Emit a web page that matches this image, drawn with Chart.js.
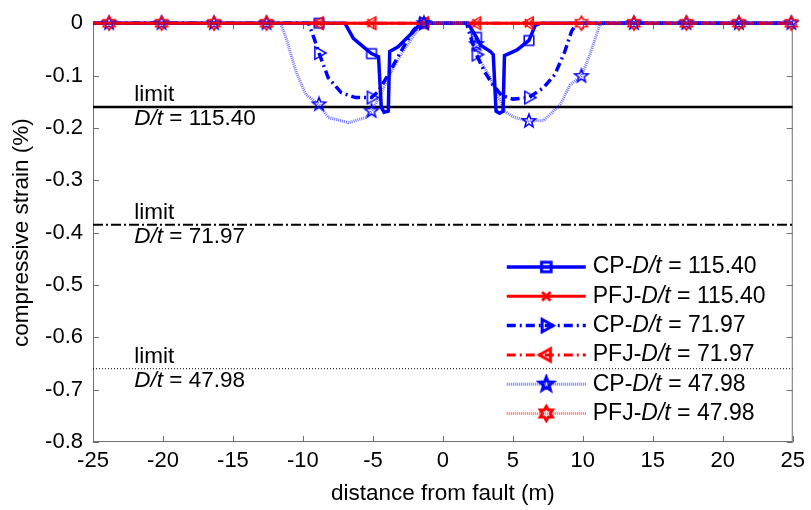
<!DOCTYPE html>
<html>
<head>
<meta charset="utf-8">
<script src="https://cdn.jsdelivr.net/npm/chart.js@4.4.1/dist/chart.umd.min.js"></script>
<style>
  html,body{margin:0;padding:0;background:#fff;}
  #wrap{width:811px;height:510px;}
</style>
</head>
<body>
<div id="wrap"><canvas id="chart" width="811" height="510"></canvas></div>
<script>
const FONT = "'Liberation Sans', Arial, sans-serif";
const BLUE = '#0000ff', RED = '#ff0000';

// marker stations along the pipe (m)
const markAll = [-23.85, -20.1, -16.35, -12.6, -8.85, -5.1, -1.35, 2.4, 6.15, 9.9, 13.65, 17.4, 21.15, 24.9];
const markMid = [-8.85, -5.1, -1.35, 2.4, 6.15];
const markOuter = markAll.filter(x => !markMid.includes(x));

// continuous pipe, D/t = 115.40
const cp115X = [-25, -8.85, -7.0, -6.4, -5.55, -5.1, -4.6, -4.4, -4.2, -3.9, -3.8, -3.2, -2.0, -1.6, -1.35, 1.8, 2.4, 2.7, 3.4, 3.6, 3.8, 4.05, 4.3, 4.4, 5.3, 6.15, 6.6, 7.0, 25];
const cp115Y = [0, 0, 0, -0.029, -0.048, -0.058, -0.064, -0.161, -0.170, -0.168, -0.054, -0.045, -0.013, 0, 0, 0, -0.027, -0.042, -0.054, -0.060, -0.168, -0.172, -0.168, -0.062, -0.051, -0.033, -0.004, 0, 0];

// continuous pipe, D/t = 71.97
const cp72X = [-25, -9.6, -9.2, -8.85, -8.2, -7.25, -6.25, -5.1, -4.6, -3.9, -3.0, -2.1, -1.6, -1.35, 1.7, 2.0, 2.4, 2.96, 3.55, 4.2, 5.0, 6.15, 7.2, 8.0, 8.7, 9.2, 9.6, 25];
const cp72Y = [0, 0, -0.029, -0.057, -0.104, -0.133, -0.142, -0.142, -0.130, -0.098, -0.054, -0.013, 0, 0, 0, -0.028, -0.060, -0.092, -0.117, -0.138, -0.145, -0.142, -0.123, -0.098, -0.055, -0.015, 0, 0];

// continuous pipe, D/t = 47.98
const cp48X = [-25, -23.85, -20.1, -16.35, -12.6, -11.6, -11.2, -10.5, -9.8, -8.85, -8.2, -6.75, -5.5, -5.1, -4.5, -3.9, -3.0, -1.9, -1.35, 1.8, 2.4, 2.7, 3.3, 3.9, 4.4, 5.1, 6.15, 7.2, 8.4, 9.1, 9.9, 10.5, 11.2, 11.6, 13.65, 17.4, 21.15, 24.9, 25];
const cp48Y = [0, 0, 0, 0, 0, 0, -0.029, -0.092, -0.136, -0.155, -0.180, -0.190, -0.180, -0.168, -0.140, -0.104, -0.060, -0.017, 0, 0, -0.040, -0.073, -0.100, -0.136, -0.168, -0.180, -0.187, -0.186, -0.155, -0.117, -0.101, -0.060, -0.004, 0, 0, 0, 0, 0, 0];

// pipe with flexible joints: no compressive strain anywhere
const pfjX = [-25, -23.85, -20.1, -16.35, -12.6, -8.85, -5.1, -1.35, 2.4, 6.15, 9.9, 13.65, 17.4, 21.15, 24.9, 25];
const pfjY = [0, 0, 0, 0, 0, 0, 0, 0, 0, 0, 0, 0, 0, 0, 0, 0];

// strain limits
const limits = [-0.16, -0.385, -0.66];
const limitDt = ['115.40', '71.97', '47.98'];

function makeMarker(shape, color, r, lw) {
  const s = Math.ceil(2 * r + lw + 4);
  const c = document.createElement('canvas');
  c.width = c.height = s;
  const g = c.getContext('2d');
  g.translate(s / 2, s / 2);
  g.strokeStyle = color;
  g.lineWidth = lw;
  g.beginPath();
  if (shape === 'square') {
    g.rect(-r * 0.8, -r * 0.8, r * 1.6, r * 1.6);
  } else if (shape === 'x') {
    const k = r * 0.7;
    g.moveTo(-k, -k); g.lineTo(k, k);
    g.moveTo(k, -k); g.lineTo(-k, k);
  } else if (shape === 'triR' || shape === 'triL') {
    const d = shape === 'triR' ? 1 : -1;
    g.moveTo(d * r, 0);
    g.lineTo(-d * r * 0.6, -r * 0.9);
    g.lineTo(-d * r * 0.6, r * 0.9);
    g.closePath();
  } else {
    const n = shape === 'penta' ? 5 : 6;
    const inner = shape === 'penta' ? 0.42 : 0.58;
    for (let i = 0; i < 2 * n; i++) {
      const a = -Math.PI / 2 + i * Math.PI / n;
      const rr = i % 2 ? r * inner : r;
      g.lineTo(rr * Math.cos(a), rr * Math.sin(a));
    }
    g.closePath();
  }
  g.stroke();
  return c;
}

const styles = [
  {name: ['CP-', 'D/t', ' = 115.40'], xs: cp115X, ys: cp115Y, color: BLUE, width: 3.5, dash: [], shape: 'square', r: 6, marks: markMid},
  {name: ['PFJ-', 'D/t', ' = 115.40'], xs: pfjX, ys: pfjY, color: RED, width: 3, dash: [], shape: 'x', r: 6, marks: markMid},
  {name: ['CP-', 'D/t', ' = 71.97'], xs: cp72X, ys: cp72Y, color: BLUE, width: 3.5, dash: [9, 4, 2, 4], shape: 'triR', r: 7, marks: markMid},
  {name: ['PFJ-', 'D/t', ' = 71.97'], xs: pfjX, ys: pfjY, color: RED, width: 3, dash: [9, 4, 2, 4], shape: 'triL', r: 7, marks: markMid},
  {name: ['CP-', 'D/t', ' = 47.98'], xs: cp48X, ys: cp48Y, color: 'rgba(0,0,255,0.55)', width: 3, dash: [1, 1], shape: 'penta', r: 7, marks: markAll, mcolor: BLUE},
  {name: ['PFJ-', 'D/t', ' = 47.98'], xs: pfjX, ys: pfjY, color: 'rgba(255,0,0,0.55)', width: 3, dash: [1, 1], shape: 'hexa', r: 7, marks: markOuter, mcolor: RED}
];
styles.forEach(s => {
  s.img = makeMarker(s.shape, s.mcolor || s.color, s.r, 1.5);
  s.legendImg = makeMarker(s.shape, s.mcolor || s.color, s.r, 3);
});

const limitStyles = [
  {width: 2.5, dash: []},
  {width: 2, dash: [10, 3, 2, 3]},
  {width: 1, dash: [1, 2]}
];

const datasets = limits.map((v, i) => ({
  data: [{x: -25, y: v}, {x: 25, y: v}],
  borderColor: '#000', borderWidth: limitStyles[i].width, borderDash: limitStyles[i].dash,
  pointRadius: 0, order: 20
}));
styles.forEach((s, i) => datasets.push({
  data: s.xs.map((x, k) => ({x: x, y: s.ys[k]})),
  borderColor: s.color, borderWidth: s.width, borderDash: s.dash,
  pointStyle: s.img,
  pointRadius: ctx => (ctx.raw && s.marks.includes(ctx.raw.x)) ? 6 : 0,
  pointHoverRadius: 0, clip: false, tension: 0, order: styles.length - i
}));

function richText(ctx, parts, x, y, size) {
  parts.forEach((p, i) => {
    ctx.font = (i === 1 ? 'italic ' : '') + size + 'px ' + FONT;
    ctx.fillText(p, x, y);
    x += ctx.measureText(p).width;
  });
}

const decor = {
  id: 'decor',
  beforeDatasetsDraw(chart) {
    const {ctx, chartArea: a, scales: {x, y}} = chart;
    ctx.save();
    ctx.strokeStyle = '#707070';
    ctx.lineWidth = 1;
    ctx.strokeRect(a.left + 0.5, a.top + 0.5, a.right - a.left - 1, a.bottom - a.top - 1);
    ctx.beginPath();
    x.ticks.forEach(t => {
      const px = Math.round(x.getPixelForValue(t.value)) + 0.5;
      ctx.moveTo(px, a.bottom); ctx.lineTo(px, a.bottom - 6);
      ctx.moveTo(px, a.top); ctx.lineTo(px, a.top + 6);
    });
    y.ticks.forEach(t => {
      const py = Math.round(y.getPixelForValue(t.value)) + 0.5;
      ctx.moveTo(a.left, py); ctx.lineTo(a.left + 6, py);
      ctx.moveTo(a.right, py); ctx.lineTo(a.right - 6, py);
    });
    ctx.stroke();
    ctx.restore();
  },
  afterDatasetsDraw(chart) {
    const {ctx, chartArea: a, scales: {x, y}} = chart;
    ctx.save();
    ctx.fillStyle = '#000';
    ctx.textBaseline = 'middle';
    // limit labels
    limits.forEach((v, i) => {
      const px = x.getPixelForValue(-22.05);
      const py = y.getPixelForValue(v);
      ctx.font = '22.5px ' + FONT;
      ctx.fillText('limit', px, py - 12);
      richText(ctx, ['', 'D/t', ' = ' + limitDt[i]], px, py + 12, 22.5);
    });
    // legend
    const x0 = a.right - 286, x1 = a.right - 207, tx = a.right - 200;
    styles.forEach((s, i) => {
      const ry = a.bottom - 175 + i * 29.3;
      ctx.strokeStyle = s.color;
      ctx.lineWidth = s.width;
      ctx.setLineDash(s.dash);
      ctx.beginPath();
      ctx.moveTo(x0, ry); ctx.lineTo(x1, ry);
      ctx.stroke();
      ctx.setLineDash([]);
      ctx.drawImage(s.legendImg, (x0 + x1) / 2 - s.legendImg.width / 2, ry - s.legendImg.height / 2);
      richText(ctx, s.name, tx, ry, 23);
    });
    ctx.restore();
  }
};

new Chart(document.getElementById('chart'), {
  type: 'line',
  data: {datasets: datasets},
  plugins: [decor],
  options: {
    responsive: false,
    animation: false,
    events: [],
    layout: {padding: {left: 0, right: 14, top: 18, bottom: 0}},
    plugins: {legend: {display: false}, tooltip: {enabled: false}},
    scales: {
      x: {
        type: 'linear', min: -25, max: 25,
        ticks: {stepSize: 5, color: '#000', font: {family: FONT, size: 22}, padding: 6, maxRotation: 0, autoSkip: false},
        grid: {display: false, drawTicks: false},
        border: {display: false},
        title: {display: true, text: 'distance from fault (m)', color: '#000', font: {family: FONT, size: 22.5}, padding: {top: 0, bottom: 2.5}},
        afterFit: s => { s.height = 68; }
      },
      y: {
        type: 'linear', min: -0.8, max: 0,
        ticks: {stepSize: 0.1, color: '#000', font: {family: FONT, size: 22}, padding: 10},
        grid: {display: false, drawTicks: false},
        border: {display: false},
        title: {display: true, text: 'compressive strain (%)', color: '#000', font: {family: FONT, size: 22.5}, padding: {top: 8.5, bottom: 0}},
        afterFit: s => { s.width = 93; }
      }
    }
  }
});
</script>
</body>
</html>
